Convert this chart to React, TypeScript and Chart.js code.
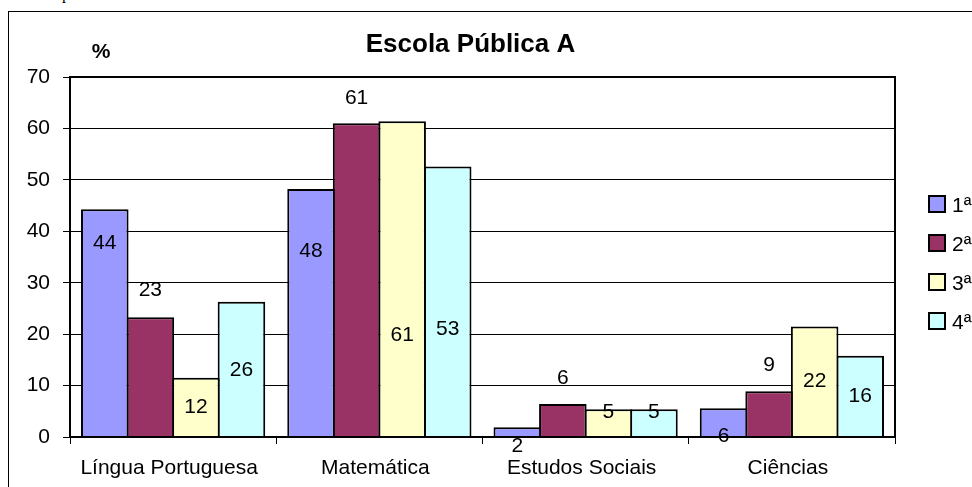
import React, { useEffect, useRef } from "react";
import { Chart, registerables } from "chart.js";

Chart.register(...registerables);

// ---- data ----
const categories = ["Língua Portuguesa", "Matemática", "Estudos Sociais", "Ciências"];
const seriesNames = ["1ª", "2ª", "3ª", "4ª"];
const serie1 = [44.3, 48.2, 1.9, 5.6];
const serie2 = [23.3, 61.0, 6.4, 8.9];
const serie3 = [11.5, 61.4, 5.4, 21.5];
const serie4 = [26.3, 52.6, 5.4, 15.8];
// where each value label sits, in axis units
const label1At = [38.0, 36.5, -1.46, 0.55];
const label2At = [28.8, 66.3, 11.8, 14.2];
const label3At = [6.2, 20.2, 5.25, 11.1];
const label4At = [13.3, 21.2, 5.25, 8.3];
const yMin = 0;
const yMax = 70;
const yStep = 10;
const title = "Escola Pública A";
const yUnit = "%";

const seriesValues = [serie1, serie2, serie3, serie4];
const labelPositions = [label1At, label2At, label3At, label4At];
const colors = ["#9999FF", "#993366", "#FFFFCC", "#CCFFFF"];

const FONT = "'Liberation Sans', Arial, sans-serif";
const W = 1000;
const H = 490;

const decor = {
  id: "decor",
  beforeDraw(chart: any) {
    const ctx = chart.ctx;
    ctx.save();
    ctx.fillStyle = "#fff";
    ctx.fillRect(0, 0, chart.width, chart.height);
    ctx.strokeStyle = "#000";
    ctx.lineWidth = 1;
    ctx.strokeRect(0.5, 0.5, chart.width - 1, chart.height - 1);
    ctx.restore();
  },
  afterDatasetsDraw(chart: any) {
    const ctx = chart.ctx;
    const a = chart.chartArea;
    ctx.save();
    ctx.strokeStyle = "#000";
    ctx.lineWidth = 2;
    ctx.strokeRect(a.left, a.top, a.right - a.left, a.bottom - a.top);

    // value labels
    ctx.fillStyle = "#000";
    ctx.font = `21px ${FONT}`;
    ctx.textAlign = "center";
    ctx.textBaseline = "alphabetic";
    chart.data.datasets.forEach((ds: any, i: number) => {
      const meta = chart.getDatasetMeta(i);
      meta.data.forEach((el: any, j: number) => {
        const y = chart.scales.y.getPixelForValue(labelPositions[i][j]);
        ctx.fillText(String(Math.round(ds.data[j])), el.x, y + 7.5);
      });
    });

    // title
    ctx.font = `bold 26px ${FONT}`;
    ctx.fillText(title, 462.5, 40.7);
    // unit
    ctx.font = `bold 21px ${FONT}`;
    ctx.fillText(yUnit, 93, 46.5);

    // legend
    ctx.textAlign = "left";
    ctx.font = `21px ${FONT}`;
    chart.data.datasets.forEach((ds: any, i: number) => {
      const cy = 193 + i * 39;
      ctx.fillStyle = ds.backgroundColor;
      ctx.fillRect(921, cy - 8, 16, 16);
      ctx.lineWidth = 2;
      ctx.strokeStyle = "#000";
      ctx.strokeRect(921, cy - 8, 16, 16);
      ctx.fillStyle = "#000";
      ctx.fillText(ds.label, 944, cy + 7.5);
    });
    ctx.restore();
  },
};

export default function App() {
  const ref = useRef<HTMLCanvasElement | null>(null);

  useEffect(() => {
    if (!ref.current) return;
    const chart = new Chart(ref.current, {
      type: "bar",
      data: {
        labels: categories,
        datasets: seriesValues.map((vals, i) => ({
          label: seriesNames[i],
          data: vals,
          backgroundColor: colors[i],
          borderColor: "#000",
          borderWidth: 2,
          categoryPercentage: 0.8835,
          barPercentage: 1.044,
        })),
      },
      options: {
        animation: false,
        responsive: false,
        devicePixelRatio: 1,
        layout: { padding: { top: 66, left: 0, right: W - 887, bottom: 14 } },
        plugins: {
          legend: { display: false },
          title: { display: false },
          tooltip: { enabled: false },
        },
        scales: {
          x: {
            afterFit: (s: any) => {
              s.height = 50;
            },
            grid: {
              drawOnChartArea: false,
              drawTicks: true,
              tickLength: 7,
              color: "#000",
              lineWidth: 1,
            },
            border: { display: true, color: "#000", width: 2 },
            ticks: {
              color: "#000",
              font: { family: FONT, size: 21 },
              padding: 12,
              labelOffset: -4,
              maxRotation: 0,
              autoSkip: false,
            },
          },
          y: {
            min: yMin,
            max: yMax,
            afterFit: (s: any) => {
              s.width = 62;
            },
            grid: {
              color: "#000",
              lineWidth: 1,
              tickLength: 7,
              drawTicks: true,
            },
            border: { display: true, color: "#000", width: 2 },
            ticks: {
              stepSize: yStep,
              color: "#000",
              font: { family: FONT, size: 21 },
              padding: 13,
            },
          },
        },
      },
      plugins: [decor],
    });
    return () => chart.destroy();
  }, []);

  return (
    <div
      style={{
        position: "fixed",
        left: 0,
        top: 0,
        width: 972,
        height: 487,
        overflow: "hidden",
        background: "#fff",
      }}
    >
      <span
        style={{
          position: "absolute",
          left: 62,
          top: -14.4,
          fontFamily: "'Liberation Serif', 'Times New Roman', serif",
          fontSize: 16,
          lineHeight: "16px",
        }}
      >
        p
      </span>
      <canvas
        ref={ref}
        width={W}
        height={H}
        style={{ position: "absolute", left: 8, top: 11, width: W, height: H, display: "block" }}
      />
    </div>
  );
}
